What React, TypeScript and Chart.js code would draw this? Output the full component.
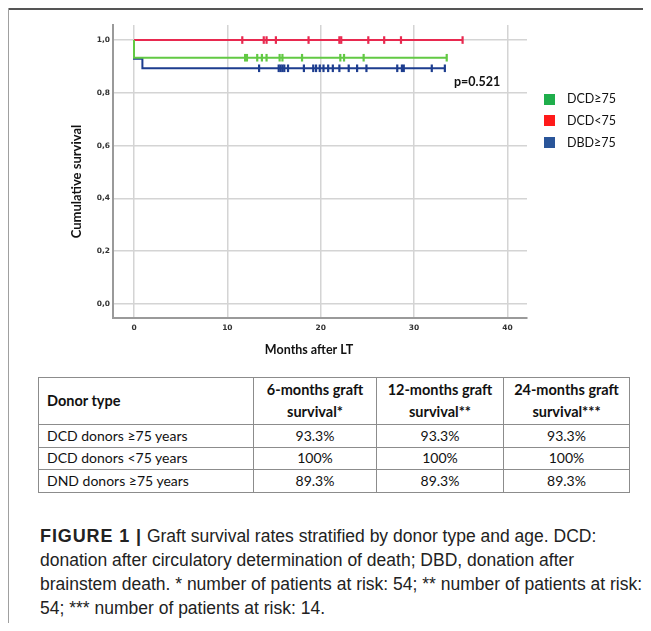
import { useEffect, useRef } from "react";
import { Chart, registerables } from "chart.js";

Chart.register(...registerables);

// ---- Data ----
const xTicks = [0, 10, 20, 30, 40];
const yTicks = [0, 0.2, 0.4, 0.6, 0.8, 1.0];
const xTitle = "Months after LT";
const yTitle = "Cumulative survival";
const pValue = "p=0.521";

const seriesNames = ["DCD≥75", "DCD<75", "DBD≥75"];
const legendColors = ["#1fae4b", "#ff1a1a", "#2a5599"];
const lineColors = ["#62c944", "#e8294f", "#1d3d8f"];

// Kaplan–Meier step vertices (months, survival)
const dcdOldTime = [0, 0, 33.5];
const dcdOldSurv = [1, 0.933, 0.933];
const dcdYoungTime = [0, 35.2];
const dcdYoungSurv = [1, 1];
const dbdOldTime = [0, 0, 0.9, 0.9, 33.3];
const dbdOldSurv = [1, 0.929, 0.929, 0.893, 0.893];

// Censored observations (months)
const dcdOldCensor = [11.9, 12.1, 13.2, 13.7, 14.2, 15.6, 15.9, 18.0, 22.1, 22.5, 24.6, 33.5];
const dcdYoungCensor = [11.6, 13.9, 14.2, 15.2, 18.7, 22.0, 22.2, 25.1, 26.8, 28.6, 35.2];
const dbdOldCensor = [
  13.4, 15.5, 15.7, 15.9, 16.1, 16.5, 18.2, 19.2, 19.5, 19.9, 20.3, 20.8, 21.3, 22.0, 23.0,
  23.9, 24.9, 28.2, 28.7, 28.9, 31.9, 33.3,
];
const dcdOldCensorLevel = 0.933;
const dcdYoungCensorLevel = 1;
const dbdOldCensorLevel = 0.893;

// Table
const tableHeader = ["Donor type", "6-months graft|survival*", "12-months graft|survival**", "24-months graft|survival***"];
const tableRows = [
  ["DCD donors ≥75 years", "93.3%", "93.3%", "93.3%"],
  ["DCD donors <75 years", "100%", "100%", "100%"],
  ["DND donors ≥75 years", "89.3%", "89.3%", "89.3%"],
];

const captionBold = "FIGURE 1 |";
const captionLines = [
  " Graft survival rates stratified by donor type and age. DCD:",
  "donation after circulatory determination of death; DBD, donation after",
  "brainstem death. * number of patients at risk: 54; ** number of patients at risk:",
  "54; *** number of patients at risk: 14.",
];

const pts = (t: number[], s: number[]) => t.map((x, i) => ({ x, y: s[i] }));
const cens = (t: number[], lvl: number) => t.map((x) => ({ x, y: lvl }));

const axisTitlePlugin = {
  id: "axisTitles",
  afterDraw(chart: any) {
    const { ctx, chartArea } = chart;
    ctx.save();
    ctx.fillStyle = "#111";
    ctx.textAlign = "center";
    ctx.textBaseline = "middle";
    ctx.font = "bold 12.5px Lato";
    const cx = (chartArea.left + chartArea.right) / 2 - 11;
    ctx.fillText(xTitle, cx, chartArea.bottom + 32);
    ctx.font = "bold 13px Lato";
    ctx.translate(69, (chartArea.top + chartArea.bottom) / 2 + 10);
    ctx.rotate(-Math.PI / 2);
    ctx.fillText(yTitle, 0, 0);
    ctx.restore();
  },
};

function KMChart() {
  const ref = useRef<HTMLCanvasElement | null>(null);
  useEffect(() => {
    if (!ref.current) return;
    const tickFont = { family: "DejaVu Sans", size: 7.5, weight: "bold" as const };
    const lineDs = (label: string, data: any[], color: string, order: number) => ({
      type: "line" as const,
      label,
      data,
      borderColor: color,
      backgroundColor: color,
      borderWidth: 2,
      pointRadius: 0,
      tension: 0,
      fill: false,
      order,
    });
    const censDs = (label: string, data: any[], color: string, order: number) => ({
      type: "scatter" as const,
      label,
      data,
      borderColor: color,
      backgroundColor: color,
      pointStyle: "line" as const,
      rotation: 90,
      pointRadius: 3.8,
      pointBorderWidth: 2.2,
      order,
    });
    const chart = new Chart(ref.current, {
      type: "line",
      data: {
        datasets: [
          lineDs(seriesNames[1], pts(dcdYoungTime, dcdYoungSurv), lineColors[1], 5),
          censDs(seriesNames[1] + " censored", cens(dcdYoungCensor, dcdYoungCensorLevel), lineColors[1], 4),
          lineDs(seriesNames[2], pts(dbdOldTime, dbdOldSurv), lineColors[2], 3),
          censDs(seriesNames[2] + " censored", cens(dbdOldCensor, dbdOldCensorLevel), lineColors[2], 2),
          lineDs(seriesNames[0], pts(dcdOldTime, dcdOldSurv), lineColors[0], 1),
          censDs(seriesNames[0] + " censored", cens(dcdOldCensor, dcdOldCensorLevel), lineColors[0], 0),
        ] as any,
      },
      options: {
        animation: false,
        responsive: false,
        events: [],
        layout: { padding: { top: 17, right: 116, left: 0, bottom: 0 } },
        plugins: { legend: { display: false }, tooltip: { enabled: false } },
        scales: {
          x: {
            type: "linear",
            min: -2.25,
            max: 42.1,
            afterBuildTicks: (s: any) => {
              s.ticks = xTicks.map((v) => ({ value: v }));
            },
            afterFit: (s: any) => {
              s.height = 47;
            },
            grid: { color: "#d4d4d4", lineWidth: 1.5, drawTicks: false },
            border: { display: true, color: "#9a9a9a", width: 2 },
            ticks: { font: tickFont, color: "#333", padding: 6, maxRotation: 0 },
          },
          y: {
            type: "linear",
            min: -0.053,
            max: 1.057,
            afterBuildTicks: (s: any) => {
              s.ticks = yTicks.map((v) => ({ value: v }));
            },
            afterFit: (s: any) => {
              s.width = 105;
            },
            grid: { color: "#d4d4d4", lineWidth: 1.5, drawTicks: false },
            border: { display: true, color: "#9a9a9a", width: 2 },
            ticks: {
              font: tickFont,
              color: "#333",
              padding: 3,
              callback: (v: any) => Number(v).toFixed(1).replace(".", ","),
            },
          },
        },
      },
      plugins: [axisTitlePlugin],
    });
    return () => chart.destroy();
  }, []);
  return (
    <canvas
      ref={ref}
      width={635}
      height={357}
      style={{ position: "absolute", left: 0, top: 0, width: 635, height: 357 }}
    />
  );
}

export default function App() {
  const legendTops = [91, 112.5, 134.5];
  const colW = [215, 123, 127, 126];
  const rowH = [22.5, 22.5, 23];
  const cell: React.CSSProperties = {
    border: "1px solid #8c8c8c",
    padding: 0,
    fontFamily: "Lato",
    fontSize: 14,
    color: "#111",
  };
  return (
    <div style={{ position: "relative", width: 635, height: 615, background: "#fff" }}>
      <div style={{ position: "absolute", left: -8, top: 0, width: 643, height: 2, background: "#555" }} />
      <div style={{ position: "absolute", left: 0, top: 0, width: 1, height: 615, background: "#a0a0a0" }} />
      <KMChart />
      <div
        style={{
          position: "absolute",
          left: 446,
          top: 66,
          fontFamily: "Lato",
          fontWeight: 700,
          fontSize: 12.5,
          lineHeight: "16px",
          color: "#111",
        }}
      >
        {pValue}
      </div>
      {seriesNames.map((n, i) => (
        <div key={n} style={{ position: "absolute", left: 536, top: legendTops[i] - 8, height: 16, display: "flex", alignItems: "center" }}>
          <div style={{ width: 11, height: 11, background: legendColors[i] }} />
          <div style={{ marginLeft: 12, fontFamily: "Lato", fontSize: 12.5, color: "#111", lineHeight: "16px" }}>{n}</div>
        </div>
      ))}
      <table
        style={{
          position: "absolute",
          left: 30,
          top: 369,
          borderCollapse: "collapse",
          tableLayout: "fixed",
          width: colW.reduce((a, b) => a + b, 0),
        }}
      >
        <colgroup>
          {colW.map((w, i) => (
            <col key={i} style={{ width: w }} />
          ))}
        </colgroup>
        <thead>
          <tr style={{ height: 47 }}>
            {tableHeader.map((h, i) => (
              <th
                key={i}
                style={{
                  ...cell,
                  fontSize: 14.5,
                  fontWeight: 700,
                  textAlign: i === 0 ? "left" : "center",
                  paddingLeft: i === 0 ? 8 : 0,
                  lineHeight: "22px",
                }}
              >
                {h.split("|").map((p, j) => (
                  <div key={j}>{p}</div>
                ))}
              </th>
            ))}
          </tr>
        </thead>
        <tbody>
          {tableRows.map((r, ri) => (
            <tr key={ri} style={{ height: rowH[ri] }}>
              {r.map((c, ci) => (
                <td
                  key={ci}
                  style={{
                    ...cell,
                    textAlign: ci === 0 ? "left" : "center",
                    paddingLeft: ci === 0 ? 8 : 0,
                    lineHeight: "20px",
                  }}
                >
                  {c}
                </td>
              ))}
            </tr>
          ))}
        </tbody>
      </table>
      <div
        style={{
          position: "absolute",
          left: 32,
          top: 516,
          fontFamily: "Liberation Sans",
          fontSize: 17.5,
          lineHeight: "24px",
          color: "#222",
          whiteSpace: "nowrap",
        }}
      >
        {captionLines.map((l, i) => (
          <div key={i}>
            {i === 0 && <b style={{ fontSize: 18, letterSpacing: 0.9 }}>{captionBold}</b>}
            {l}
          </div>
        ))}
      </div>
    </div>
  );
}
